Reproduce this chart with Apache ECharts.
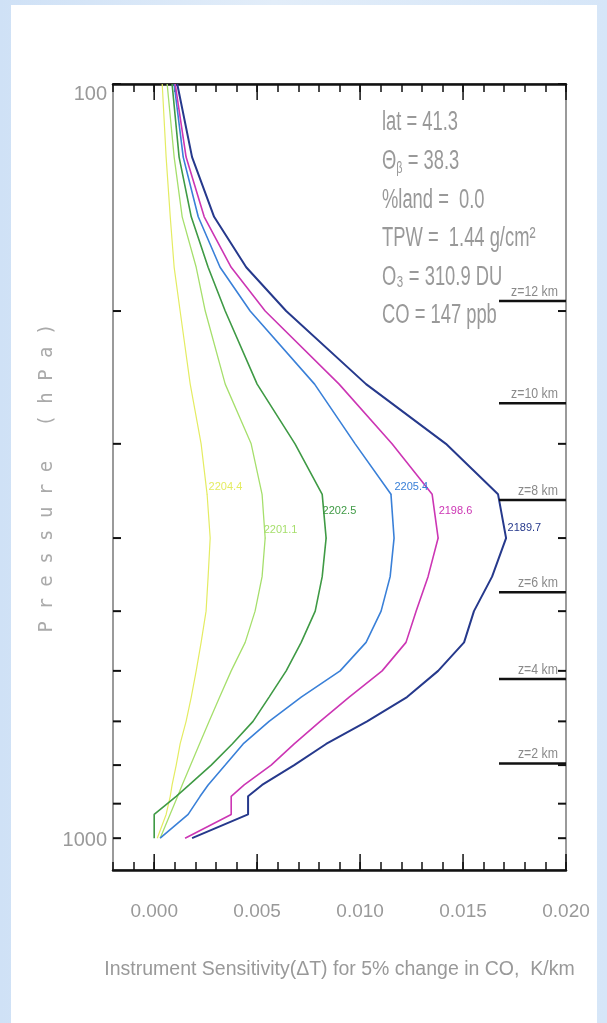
<!DOCTYPE html>
<html><head><meta charset="utf-8">
<script src="https://cdn.jsdelivr.net/npm/echarts@6/dist/echarts.min.js"></script>
<style>
html,body{margin:0;padding:0;}
body{width:607px;height:1023px;background:linear-gradient(90deg,#cfe1f6 0%,#e2edf9 45%,#d6e6f8 100%);position:relative;overflow:hidden;}
#panel{position:absolute;left:11px;top:5px;width:586px;height:1018px;background:#fff;}
#chart{position:absolute;left:0;top:0;width:607px;height:1023px;}
</style></head><body><div id="panel"></div><div id="chart"></div>
<script>
// Pressure levels (hPa) at which curves are sampled
const pressures = [100,125,150,175,200,250,300,350,400,450,500,550,600,650,700,750,800,850,880,930,1000];
// Sensitivity values (K/km) per channel
const ch2204_4 = [0.00039,0.00058,0.00078,0.00097,0.00126,0.00175,0.00228,0.00257,0.00272,0.00262,0.00252,0.00228,0.00204,0.0018,0.00155,0.00126,0.00107,0.00087,0.00078,0.00058,0.00015];
const ch2201_1 = [0.00063,0.00097,0.00136,0.00204,0.00248,0.00345,0.00471,0.00524,0.00539,0.00524,0.0049,0.00442,0.00374,0.00318,0.00267,0.0022,0.00177,0.00136,0.00114,0.00077,0.00029];
const ch2202_5 = [0.00087,0.00121,0.0018,0.00262,0.00345,0.005,0.00684,0.00816,0.00835,0.00816,0.00782,0.00714,0.00641,0.00558,0.0048,0.00379,0.00277,0.0017,0.00107,0.0,0.0];
const ch2205_4 = [0.00097,0.00141,0.00214,0.0032,0.00466,0.00779,0.00976,0.0115,0.01165,0.01146,0.01102,0.01029,0.00903,0.00714,0.00558,0.00432,0.00345,0.00262,0.00223,0.00165,0.00029];
const ch2198_6 = [0.00102,0.00155,0.00243,0.00374,0.00539,0.00898,0.01155,0.0135,0.01379,0.0133,0.01272,0.01223,0.01107,0.00947,0.00806,0.0068,0.00568,0.00437,0.00374,0.00374,0.0015];
const ch2189_7 = [0.00112,0.00184,0.00291,0.00447,0.00641,0.01029,0.01417,0.0167,0.01709,0.01641,0.01553,0.01505,0.01379,0.01228,0.01034,0.00835,0.0068,0.00524,0.00456,0.00456,0.00184];
const channelNames = ['2204.4','2201.1','2202.5','2205.4','2198.6','2189.7'];
// Tick values
const xMajorTicks = [0, 0.005, 0.010, 0.015, 0.020];
const yTickPressures = [100,200,300,400,500,600,700,800,900,1000];
// Altitude markers
const zLabels = ['z=12 km','z=10 km','z=8 km','z=6 km','z=4 km','z=2 km'];
const zPressures = [194, 265, 356, 472, 615, 796];
// Annotation text
const infoLines = ['lat = 41.3','{n|Θ}{s|β}{n| = 38.3}','%land =  0.0','TPW =  1.44 g/cm²','O₃ = 310.9 DU','CO = 147 ppb'];
const yTitle = 'P r e s s u r e   ( h P a )';

const FONT = '"Liberation Sans",Arial,sans-serif';
const TXT = '#999999';

const seriesData = [ch2204_4, ch2201_1, ch2202_5, ch2205_4, ch2198_6, ch2189_7];
const colors = ['#e4ec62','#a6df6c','#3f9a45','#3a80d8','#cc36b4','#26398c'];
const widths = [1.2,1.3,1.6,1.6,1.6,2];
const labelIdx = [7,8,8,7,8,8];
const labelOff = [[-4,-7],[-7,-8],[-9,-27],[-2,-7],[-5,-27],[-4,-10]];

const lineSeries = seriesData.map((vals, s) => ({
  type:'line', name: channelNames[s], symbol:'none', z:3,
  lineStyle:{color:colors[s], width:widths[s]},
  itemStyle:{color:colors[s]},
  data: vals.map((v,i) => {
    const d = {value:[v, pressures[i]]};
    if (i === labelIdx[s]) {
      d.symbol = 'circle'; d.symbolSize = 1;
      d.label = {show:true, position:'right', offset:labelOff[s], formatter:channelNames[s], color:colors[s], fontSize:11, fontFamily:FONT};
    }
    return d;
  })
}));

const graphics = infoLines.map((t,i) => ({
  type:'text', x:382, y:123 + i*38.6, z:10, scaleX:0.68,
  style:{text:t, fill:TXT, font:'27px '+FONT, verticalAlign:'middle',
    rich:{n:{fill:TXT, fontSize:27, fontFamily:FONT}, s:{fill:TXT, fontSize:16, fontFamily:FONT, padding:[14,0,0,0]}}}
}));
graphics.push({
  type:'text', x:47, y:478, rotation:Math.PI/2, z:10,
  style:{text:yTitle, fill:'#aaaaaa', font:'19px "DejaVu Sans Mono",monospace', align:'center', verticalAlign:'middle'}
});

const chart = echarts.init(document.getElementById('chart'), null, {renderer:'canvas'});
chart.setOption({
  animation:false,
  backgroundColor:'transparent',
  grid:{left:113, right:41, top:84, bottom:153, show:true, borderColor:'#9a9a9a', borderWidth:2, backgroundColor:'transparent'},
  xAxis:[{
    type:'value', position:'bottom', min:-0.002, max:0.020, interval:0.001,
    axisLine:{show:true, onZero:false, lineStyle:{color:'#111', width:2.5}},
    axisTick:{show:true, inside:true, length:8, lineStyle:{color:'#111', width:1.5}},
    splitLine:{show:false},
    axisLabel:{margin:32, color:TXT, fontSize:19, fontFamily:FONT,
      formatter:v => { const k = Math.round(v*1000); return (k>=0 && k%5===0) ? (k/1000).toFixed(3) : ''; }},
    name:'Instrument Sensitivity(ΔT) for 5% change in CO,  K/km', nameLocation:'middle', nameGap:90,
    nameTextStyle:{color:TXT, fontSize:19.5, fontFamily:FONT}
  },{
    type:'value', position:'top', min:-0.002, max:0.020, interval:0.001,
    axisLine:{show:true, onZero:false, lineStyle:{color:'#111', width:2.5}},
    axisTick:{show:true, inside:true, length:8, lineStyle:{color:'#111', width:1.5}},
    splitLine:{show:false}, axisLabel:{show:false}
  }],
  yAxis:[{
    type:'log', logBase:10, min:100, max:1102, inverse:true,
    axisLine:{show:true, onZero:false, lineStyle:{color:'#9a9a9a', width:2}},
    axisTick:{show:false}, splitLine:{show:false}, minorTick:{show:false}, minorSplitLine:{show:false},
    axisLabel:{margin:6, color:TXT, fontSize:20, fontFamily:FONT,
      formatter:v => { const r = Math.round(v); return r===100 ? '{t|100}' : (r===1000 ? '{b|1000}' : ''); },
      rich:{t:{color:TXT, fontSize:20, fontFamily:FONT, padding:[20,0,0,0]}, b:{color:TXT, fontSize:20, fontFamily:FONT, padding:[5,0,0,0]}}}
  }],
  graphic: graphics,
  series: [
    ...lineSeries,
    {
      type:'custom', coordinateSystem:'cartesian2d', silent:true, clip:false, z:5,
      data: yTickPressures.map(p => [0, p]),
      renderItem:(params, api) => {
        const y = api.coord([0, api.value(1)])[1];
        const r = params.coordSys;
        return {type:'group', children:[
          {type:'line', shape:{x1:r.x, y1:y, x2:r.x+8, y2:y}, style:{stroke:'#111', lineWidth:2}},
          {type:'line', shape:{x1:r.x+r.width, y1:y, x2:r.x+r.width-8, y2:y}, style:{stroke:'#111', lineWidth:2}}
        ]};
      }
    },
    {
      type:'custom', coordinateSystem:'cartesian2d', silent:true, clip:false, z:5,
      data: xMajorTicks.map(v => [v, 100]),
      renderItem:(params, api) => {
        const x = api.coord([api.value(0), 100])[0];
        const r = params.coordSys;
        return {type:'group', children:[
          {type:'line', shape:{x1:x, y1:r.y+r.height, x2:x, y2:r.y+r.height-16}, style:{stroke:'#111', lineWidth:1.5}},
          {type:'line', shape:{x1:x, y1:r.y, x2:x, y2:r.y+16}, style:{stroke:'#111', lineWidth:1.5}}
        ]};
      }
    },
    {
      type:'custom', coordinateSystem:'cartesian2d', silent:true, clip:false, z:6,
      data: zPressures.map(p => [0, p]),
      renderItem:(params, api) => {
        const y = api.coord([0, api.value(1)])[1];
        const r = params.coordSys;
        const x2 = r.x + r.width, x1 = x2 - 67;
        return {type:'group', children:[
          {type:'line', shape:{x1:x1, y1:y, x2:x2, y2:y}, style:{stroke:'#111', lineWidth:2.5}},
          {type:'text', x:x2-8, y:y-2, scaleX:0.88, style:{text:zLabels[params.dataIndex], align:'right', verticalAlign:'bottom', fill:'#8a8a8a', font:'14px '+FONT}}
        ]};
      }
    }
  ]
});
</script></body></html>
